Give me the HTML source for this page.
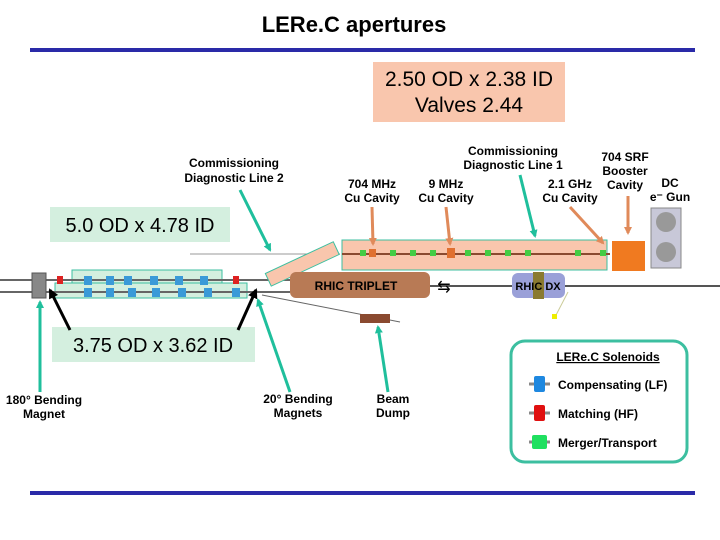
<!DOCTYPE html>
<html><head><meta charset="utf-8"><style>
body{margin:0;background:#fff}
svg{display:block;font-family:"Liberation Sans",Arial,sans-serif}
</style></head><body>
<svg width="720" height="540" viewBox="0 0 720 540">
<defs>
<marker id="tl" markerWidth="8" markerHeight="8" refX="6" refY="4" orient="auto" markerUnits="userSpaceOnUse"><path d="M0,0 L8,4 L0,8 z" fill="#1fbf9c"/></marker>
<marker id="or" markerWidth="8" markerHeight="8" refX="6" refY="4" orient="auto" markerUnits="userSpaceOnUse"><path d="M0,0 L8,4 L0,8 z" fill="#e08a5a"/></marker>
<marker id="bk" markerWidth="10" markerHeight="10" refX="8" refY="5" orient="auto" markerUnits="userSpaceOnUse"><path d="M0,0 L10,5 L0,10 z" fill="#000"/></marker>
</defs>
<text x="354" y="32" font-size="22" font-weight="bold" text-anchor="middle">LERe.C apertures</text>
<rect x="30" y="48" width="665" height="4" fill="#2a2aa8"/>
<rect x="30" y="491" width="665" height="4" fill="#2a2aa8"/>

<rect x="373" y="62" width="192" height="60" fill="#f9c6ad"/>
<text x="469" y="86" font-size="21" text-anchor="middle">2.50 OD x 2.38 ID</text>
<text x="469" y="112" font-size="21" text-anchor="middle">Valves 2.44</text>

<g font-size="12" font-weight="bold" text-anchor="middle">
<text x="234" y="167">Commissioning</text><text x="234" y="182">Diagnostic Line 2</text>
<text x="372" y="188">704 MHz</text><text x="372" y="202">Cu Cavity</text>
<text x="446" y="188">9 MHz</text><text x="446" y="202">Cu Cavity</text>
<text x="513" y="155">Commissioning</text><text x="513" y="169">Diagnostic Line 1</text>
<text x="570" y="188">2.1 GHz</text><text x="570" y="202">Cu Cavity</text>
<text x="625" y="161">704 SRF</text><text x="625" y="175">Booster</text><text x="625" y="189">Cavity</text>
<text x="670" y="187">DC</text><text x="670" y="201">e⁻ Gun</text>
<text x="44" y="404">180° Bending</text><text x="44" y="418">Magnet</text>
<text x="298" y="403">20° Bending</text><text x="298" y="417">Magnets</text>
<text x="393" y="403">Beam</text><text x="393" y="417">Dump</text>
</g>

<rect x="50" y="207" width="180" height="35" fill="#d4efdf"/>
<text x="140" y="232" font-size="20" text-anchor="middle">5.0 OD x 4.78 ID</text>

<line x1="190" y1="254" x2="340" y2="254" stroke="#999"/>
<rect x="342" y="240" width="265" height="30" fill="#f9c6ad" stroke="#3cbfa0"/>
<rect x="72" y="270" width="150" height="13" fill="#d4efdf" stroke="#3cbfa0"/>
<rect x="55" y="283" width="192" height="15" fill="#d4efdf" stroke="#3cbfa0"/>
<line x1="0" y1="280" x2="290" y2="280" stroke="#666" stroke-width="2"/>
<line x1="0" y1="292" x2="290" y2="292" stroke="#666" stroke-width="2"/>
<line x1="342" y1="254" x2="610" y2="254" stroke="#8a4a30" stroke-width="2"/>
<line x1="430" y1="286" x2="720" y2="286" stroke="#555" stroke-width="2"/>
<line x1="262" y1="295" x2="400" y2="322" stroke="#666"/>
<rect x="32" y="273" width="14" height="25" fill="#888" stroke="#555"/>
<g fill="#3a9ad8">
<rect x="84" y="276" width="8" height="9"/><rect x="106" y="276" width="8" height="9"/><rect x="124" y="276" width="8" height="9"/><rect x="150" y="276" width="8" height="9"/><rect x="175" y="276" width="8" height="9"/><rect x="200" y="276" width="8" height="9"/>
<rect x="84" y="288" width="8" height="9"/><rect x="106" y="288" width="8" height="9"/><rect x="128" y="288" width="8" height="9"/><rect x="152" y="288" width="8" height="9"/><rect x="178" y="288" width="8" height="9"/><rect x="204" y="288" width="8" height="9"/><rect x="232" y="288" width="8" height="9"/>
</g>
<rect x="57" y="276" width="6" height="8" fill="#d22"/><rect x="233" y="276" width="6" height="8" fill="#d22"/>
<g transform="rotate(-25 300 265)"><rect x="265" y="258" width="75" height="14" fill="#f9c6ad" stroke="#3cbfa0"/></g>
<g fill="#4c4">
<rect x="360" y="250" width="6" height="6"/><rect x="390" y="250" width="6" height="6"/><rect x="410" y="250" width="6" height="6"/><rect x="430" y="250" width="6" height="6"/><rect x="465" y="250" width="6" height="6"/><rect x="485" y="250" width="6" height="6"/><rect x="505" y="250" width="6" height="6"/><rect x="525" y="250" width="6" height="6"/><rect x="575" y="250" width="6" height="6"/><rect x="600" y="250" width="6" height="6"/>
</g>
<rect x="369" y="249" width="7" height="8" fill="#e07030"/><rect x="447" y="248" width="8" height="10" fill="#e07030"/>
<rect x="612" y="241" width="33" height="30" fill="#f07a20"/>
<rect x="651" y="208" width="30" height="60" fill="#c8c8d8" stroke="#888"/>
<circle cx="666" cy="222" r="10" fill="#999"/><circle cx="666" cy="252" r="10" fill="#999"/>
<rect x="290" y="272" width="140" height="26" rx="6" fill="#b87a55"/>
<text x="356" y="290" font-size="12" font-weight="bold" text-anchor="middle">RHIC TRIPLET</text>
<rect x="512" y="273" width="53" height="25" rx="6" fill="#9aa0d8"/>
<rect x="533" y="272" width="11" height="27" fill="#8a7a30"/>
<text x="538" y="290" font-size="11" font-weight="bold" text-anchor="middle">RHIC  DX</text>
<text x="444" y="292" font-size="16" text-anchor="middle">⇆</text>
<rect x="360" y="314" width="30" height="9" fill="#8a4a30"/>
<line x1="568" y1="292" x2="555" y2="317" stroke="#cc9"/><rect x="552" y="314" width="5" height="5" fill="#ee0"/>

<rect x="52" y="327" width="203" height="35" fill="#d4efdf"/>
<text x="153" y="352" font-size="20" text-anchor="middle">3.75 OD x 3.62 ID</text>

<g stroke-width="3" fill="none">
<line x1="70" y1="330" x2="50" y2="290" stroke="#000" marker-end="url(#bk)"/>
<line x1="238" y1="330" x2="256" y2="290" stroke="#000" marker-end="url(#bk)"/>
<line x1="240" y1="190" x2="270" y2="250" stroke="#1fbf9c" marker-end="url(#tl)"/>
<line x1="520" y1="175" x2="535" y2="236" stroke="#1fbf9c" marker-end="url(#tl)"/>
<line x1="40" y1="392" x2="40" y2="302" stroke="#1fbf9c" marker-end="url(#tl)"/>
<line x1="290" y1="392" x2="258" y2="300" stroke="#1fbf9c" marker-end="url(#tl)"/>
<line x1="388" y1="392" x2="378" y2="327" stroke="#1fbf9c" marker-end="url(#tl)"/>
<line x1="372" y1="207" x2="373" y2="244" stroke="#e08a5a" marker-end="url(#or)"/>
<line x1="446" y1="207" x2="450" y2="244" stroke="#e08a5a" marker-end="url(#or)"/>
<line x1="570" y1="207" x2="603" y2="243" stroke="#e08a5a" marker-end="url(#or)"/>
<line x1="628" y1="196" x2="628" y2="233" stroke="#e08a5a" marker-end="url(#or)"/>
</g>

<rect x="511" y="341" width="176" height="121" rx="14" fill="#fff" stroke="#3cbfa0" stroke-width="3"/>
<text x="608" y="361" font-size="12" font-weight="bold" text-anchor="middle" text-decoration="underline">LERe.C Solenoids</text>
<g font-size="12" font-weight="bold"><text x="558" y="389">Compensating (LF)</text><text x="558" y="418">Matching (HF)</text><text x="558" y="447">Merger/Transport</text></g>
<g stroke="#888" stroke-width="3"><line x1="529" y1="384" x2="550" y2="384"/><line x1="529" y1="413" x2="550" y2="413"/><line x1="529" y1="442" x2="550" y2="442"/></g>
<rect x="534" y="376" width="11" height="16" rx="2" fill="#1e88e0"/>
<rect x="534" y="405" width="11" height="16" rx="2" fill="#e01010"/>
<rect x="532" y="435" width="15" height="14" rx="2" fill="#20e060"/>
</svg>
</body></html>
